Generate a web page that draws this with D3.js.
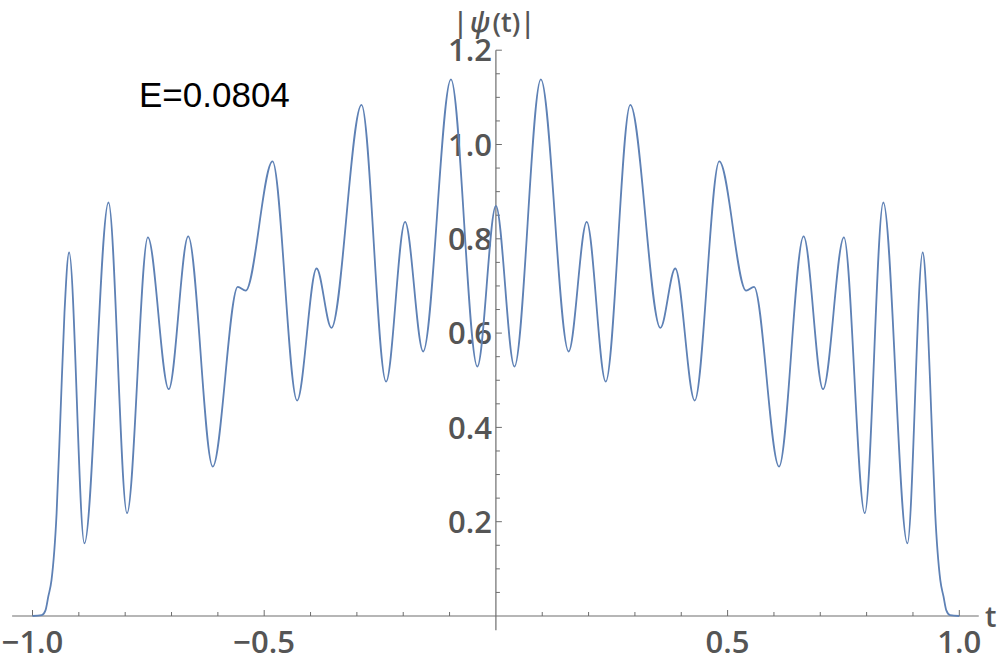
<!DOCTYPE html>
<html>
<head>
<meta charset="utf-8">
<script src="https://cdn.jsdelivr.net/npm/d3@7"></script>
<style>
  body { margin: 0; background: #fff; }
  svg { display: block; }
</style>
</head>
<body>
<div id="plot"></div>
<script>
const WIDTH = 1000, HEIGHT = 663;

// |psi(t)| at peaks, troughs and along the edges
let tVals = [
    -1.000, -0.980, -0.972, -0.966, -0.959, -0.948, -0.9395, -0.931, -0.921,
    -0.888, -0.836, -0.796, -0.751, -0.706, -0.664, -0.611, -0.557, -0.540,
    -0.482, -0.429, -0.387, -0.355, -0.290, -0.237, -0.196, -0.157, -0.097,
    -0.040, 0.000,
    0.040, 0.097, 0.157, 0.196, 0.237, 0.290, 0.355, 0.387, 0.429,
    0.482, 0.540, 0.557, 0.611, 0.664, 0.706, 0.751, 0.796, 0.836,
    0.888, 0.921, 0.931, 0.9395, 0.948, 0.959, 0.966, 0.972, 0.980, 1.000
];
let psiVals = [
    0.000, 0.002, 0.012, 0.041, 0.076, 0.218, 0.430, 0.643, 0.771,
    0.154, 0.877, 0.218, 0.803, 0.481, 0.805, 0.317, 0.698, 0.690,
    0.964, 0.457, 0.737, 0.611, 1.084, 0.497, 0.836, 0.561, 1.138,
    0.529, 0.870,
    0.529, 1.138, 0.561, 0.836, 0.497, 1.084, 0.611, 0.737, 0.457,
    0.964, 0.690, 0.698, 0.317, 0.805, 0.481, 0.803, 0.218, 0.877,
    0.154, 0.771, 0.643, 0.430, 0.218, 0.076, 0.041, 0.012, 0.002, 0.000
];

let xTickLabels = [-1.0, -0.5, 0.5, 1.0];
let yTickLabels = [0.2, 0.4, 0.6, 0.8, 1.0, 1.2];
let xMinorTicks = [-1.0, -0.9, -0.8, -0.7, -0.6, -0.5, -0.4, -0.3, -0.2, -0.1,
                   0.1, 0.2, 0.3, 0.4, 0.5, 0.6, 0.7, 0.8, 0.9, 1.0];
let yMinorTicks = [0.05, 0.1, 0.15, 0.2, 0.25, 0.3, 0.35, 0.4, 0.45, 0.5, 0.55, 0.6,
                   0.65, 0.7, 0.75, 0.8, 0.85, 0.9, 0.95, 1.0, 1.05, 1.1, 1.15, 1.2];

let data = tVals.map((t, i) => ({t: t, v: psiVals[i]}));

let axisColor = "#6e6e6e", labelColor = "#555";
let tickFont = "'Open Sans', 'DejaVu Sans', sans-serif";

let svg = d3.select("#plot")
    .append("svg")
    .attr("width", WIDTH)
    .attr("height", HEIGHT);

let x = d3.scaleLinear().domain([-1, 1]).range([32.5, 959.3]);
let y = d3.scaleLinear().domain([0, 1.2]).range([616, 50.2]);

// axes cross at the origin
svg.append("line")
    .attr("x1", x(-1.044)).attr("x2", x(1.042))
    .attr("y1", y(0)).attr("y2", y(0))
    .attr("stroke", axisColor).attr("stroke-width", 1.2);

svg.append("line")
    .attr("x1", x(0)).attr("x2", x(0))
    .attr("y1", y(-0.03)).attr("y2", y(1.2))
    .attr("stroke", axisColor).attr("stroke-width", 1.2);

// x ticks point up, y ticks point right
svg.append("g").selectAll("line").data(xMinorTicks).enter()
    .append("line")
    .attr("x1", d => x(d)).attr("x2", d => x(d))
    .attr("y1", y(0))
    .attr("y2", d => y(0) - (xTickLabels.includes(d) ? 6 : 4))
    .attr("stroke", axisColor).attr("stroke-width", 1);

svg.append("g").selectAll("line").data(yMinorTicks).enter()
    .append("line")
    .attr("x1", x(0))
    .attr("x2", d => x(0) + (yTickLabels.some(v => Math.abs(v - d) < 1e-9) ? 6 : 4))
    .attr("y1", d => y(d)).attr("y2", d => y(d))
    .attr("stroke", axisColor).attr("stroke-width", 1);

svg.append("g").selectAll("text").data(xTickLabels).enter()
    .append("text")
    .attr("x", d => x(d))
    .attr("y", 653)
    .style("text-anchor", "middle")
    .style("font-family", tickFont)
    .style("font-size", "31px")
    .style("font-weight", 600)
    .attr("fill", labelColor)
    .text(d => (d < 0 ? "\u2212" : "") + Math.abs(d).toFixed(1));

svg.append("g").selectAll("text").data(yTickLabels).enter()
    .append("text")
    .attr("x", x(0) - 4)
    .attr("y", d => y(d))
    .attr("dy", "0.36em")
    .style("text-anchor", "end")
    .style("font-family", tickFont)
    .style("font-size", "31px")
    .style("font-weight", 600)
    .attr("fill", labelColor)
    .text(d => d.toFixed(1));

// axis names
let yName = svg.append("text")
    .attr("x", 494)
    .attr("y", 32)
    .style("text-anchor", "middle")
    .style("font-family", tickFont)
    .style("font-size", "27px")
    .style("font-weight", 600)
    .attr("fill", labelColor);
yName.append("tspan").text("|");
yName.append("tspan").attr("dx", 2).style("font-style", "italic").text("\u03C8");
yName.append("tspan").attr("dx", 2).text("(t)|");

svg.append("text")
    .attr("x", 985)
    .attr("y", 627)
    .style("font-family", tickFont)
    .style("font-size", "29px")
    .style("font-weight", 600)
    .attr("fill", labelColor)
    .text("t");

let line = d3.line()
    .x(d => x(d.t))
    .y(d => y(d.v))
    .curve(d3.curveMonotoneX);

svg.append("path")
    .datum(data)
    .attr("d", line)
    .attr("fill", "none")
    .attr("stroke", "#5e81b5")
    .attr("stroke-width", 1.8);

svg.append("text")
    .attr("x", 139)
    .attr("y", 106.5)
    .style("font-family", "'Liberation Sans', Arial, sans-serif")
    .style("font-size", "35px")
    .attr("fill", "#000")
    .text("E=0.0804");
</script>
</body>
</html>
